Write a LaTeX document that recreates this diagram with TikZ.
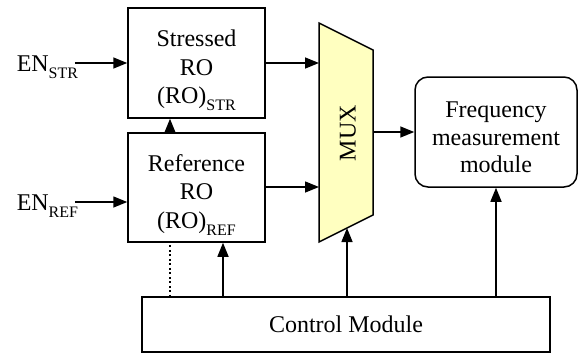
\documentclass[tikz,border=0pt]{standalone}
\usepackage{fontspec}
\setmainfont{Liberation Serif}
\usetikzlibrary{arrows.meta}
\definecolor{muxfill}{RGB}{255,255,192}
\newcommand{\lsub}[1]{\raisebox{-7pt}[0pt][0pt]{\fontsize{16}{16}\selectfont #1}}
\newcommand{\topstrut}[1]{\rule{0pt}{#1}}
\begin{document}
\begin{tikzpicture}[x=1pt,y=-1pt, line width=1.5pt,
  blk/.style={draw, minimum width=137pt, minimum height=110pt, align=center,
    font=\fontsize{24}{28.5}\selectfont, inner sep=0pt},
  arr/.style={-{Triangle[length=14pt,width=11pt]}},
  dotline/.style={line width=2pt, dash pattern=on 2pt off 2.5pt},
  lbl/.style={font=\fontsize{24}{28}\selectfont, inner sep=0pt}]
\useasboundingbox (0,0) rectangle (581,354);
% blocks
\node[blk] (str) at (196.5,63) {\topstrut{30pt}Stressed\\RO\\(RO)\lsub{STR}};
\node[blk, minimum height=109pt] (ref) at (196.5,187.5) {\topstrut{30pt}Reference\\RO\\(RO)\lsub{REF}};
\node[blk, rounded corners=13pt, minimum width=162pt, font=\fontsize{24}{27.5}\selectfont] (freq) at (496,132) {\topstrut{27pt}Frequency\\measurement\\module};
\node[draw, minimum width=408pt, minimum height=55pt, inner sep=0pt, lbl] (ctrl) at (346,324.5) {Control Module};
% labels
\node[lbl, anchor=base west] (enstr) at (16,71) {EN\lsub{STR}};
\node[lbl, anchor=base west] (enref) at (16,210) {EN\lsub{REF}};
% MUX
\coordinate (mtl) at (319,23);
\coordinate (mtr) at (373,50);
\coordinate (mbr) at (373,215);
\coordinate (mbl) at (319,242);
\draw[fill=muxfill] (mtl) -- (mtr) -- (mbr) -- (mbl) -- cycle;
\node[lbl, rotate=90] (mux) at (348,133) {MUX};
\coordinate (mux1) at (319,63);
\coordinate (mux2) at (319,187);
\coordinate (muxout) at (373,132);
\coordinate (muxsel) at (347,228);
% connectors
\draw[arr] ([xshift=-4pt]enstr.east |- str.west) -- (str.west);
\draw[arr] ([xshift=-4pt]enref.east |- 0,202) -- (ref.west |- 0,202);
\draw[arr] (str.east) -- (mux1);
\draw[arr] (ref.east |- mux2) -- (mux2);
\draw[arr] (muxout) -- (freq.west);
\draw[arr] ([xshift=-26.5pt]ref.north) -- ([xshift=-26.5pt]str.south);
\draw[dotline] ([xshift=-27pt,yshift=2pt]ref.south) -- (ctrl.north -| 169.5,0);
\draw[arr] (ctrl.north -| 223,0) -- (ref.south -| 223,0);
\draw[arr] (ctrl.north -| muxsel) -- (muxsel);
\draw[arr] (ctrl.north -| freq.south) -- (freq.south);
\end{tikzpicture}
\end{document}
